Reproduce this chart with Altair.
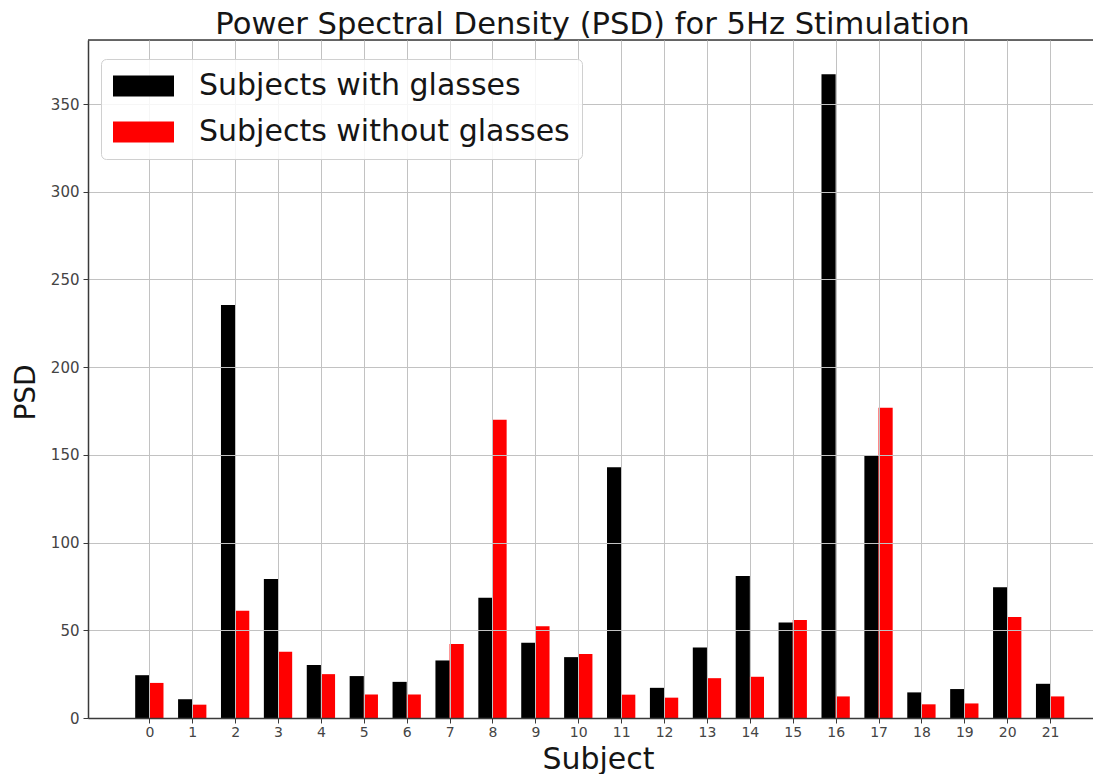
import altair as alt
import pandas as pd

# ---- data ----
subjects = list(range(22))
with_glasses = [24.4, 10.7, 235.5, 79.2, 30.2, 23.9, 20.6, 32.8, 68.5, 42.9, 34.7,
                143.0, 17.2, 40.2, 80.9, 54.5, 367.0, 149.4, 14.6, 16.5, 74.6, 19.5]
without_glasses = [20.0, 7.6, 61.1, 37.8, 25.0, 13.4, 13.4, 42.2, 170.0, 52.3, 36.5,
                   13.3, 11.6, 22.7, 23.5, 55.9, 12.3, 176.8, 7.8, 8.3, 57.6, 12.3]
series_names = ["Subjects with glasses", "Subjects without glasses"]
series_colors = ["#000000", "#ff0000"]
y_ticks = [0, 50, 100, 150, 200, 250, 300, 350]

rows = []
for s, a, b in zip(subjects, with_glasses, without_glasses):
    rows.append({"subject": s, "series": series_names[0], "psd": a, "slot": -1})
    rows.append({"subject": s, "series": series_names[1], "psd": b, "slot": 0})
df = pd.DataFrame(rows)

BAR_W = 0.33
FONT = "DejaVu Sans"
SPINE = "#3a3a3a"
GRID = "#c2c2c2"
PLOT_W = 1005
PLOT_H = 678

xscale = alt.Scale(domain=[-1.43, 22.0], nice=False, zero=False)
yscale = alt.Scale(domain=[0, 386.5], nice=False, zero=True)

color = alt.Color(
    "series:N",
    scale=alt.Scale(domain=series_names, range=series_colors),
    legend=alt.Legend(
        title=None,
        orient="none",
        legendX=13,
        legendY=19,
        symbolType="M-1,-0.344H1V0.344H-1Z",
        symbolSize=3721,
        symbolStrokeWidth=0,
        symbolOpacity=1,
        symbolOffset=0,
        labelFontSize=30,
        labelFont=FONT,
        labelColor="#151515",
        labelOffset=25,
        labelLimit=600,
        padding=12,
        clipHeight=30,
        rowPadding=16,
        fillColor="rgba(255,255,255,0.85)",
        strokeColor="#d0d0d0",
        cornerRadius=5,
        zindex=2,
    ),
)

y_axis = alt.Axis(
    values=y_ticks,
    title="PSD",
    grid=True,
    gridColor=GRID,
    gridWidth=1,
    labelFontSize=15,
    labelFont=FONT,
    labelColor="#444444",
    labelPadding=4,
    tickSize=5,
    tickColor=SPINE,
    domainColor=SPINE,
    domainWidth=1.5,
    titleFont=FONT,
    titleFontSize=28,
    titleFontWeight="normal",
    titleColor="#151515",
    titleAngle=270,
    titleAlign="center",
    titleBaseline="alphabetic",
    titleX=-54,
    titleY=352,
    zindex=1,
)

x_axis = alt.Axis(
    values=subjects,
    format="d",
    title="Subject",
    grid=True,
    gridColor=GRID,
    gridWidth=1,
    labelFontSize=14,
    labelFont=FONT,
    labelColor="#444444",
    labelPadding=2,
    labelFlush=False,
    tickSize=5,
    tickColor=SPINE,
    domainColor=SPINE,
    domainWidth=1.5,
    titleFont=FONT,
    titleFontSize=30,
    titleFontWeight="normal",
    titleColor="#151515",
    titleAlign="center",
    titleBaseline="alphabetic",
    titleX=510,
    titleY=50,
    zindex=1,
)

bars = alt.Chart(df).transform_calculate(
    x0=f"datum.subject + datum.slot * {BAR_W}",
    x1=f"datum.subject + (datum.slot + 1) * {BAR_W}",
).mark_bar().encode(
    x=alt.X("x0:Q", scale=xscale, axis=x_axis),
    x2="x1:Q",
    y=alt.Y("psd:Q", scale=yscale, axis=y_axis),
    y2=alt.datum(0),
    color=color,
)

# top spine of the axes frame (decoration only)
top_spine = alt.Chart(alt.Data(values=[{"k": 0}])).mark_rule(
    color=SPINE, strokeWidth=1.5
).encode(
    x=alt.value(0), x2=alt.value(PLOT_W), y=alt.value(0)
)

chart = alt.layer(bars, top_spine).properties(
    width=PLOT_W,
    height=PLOT_H,
    autosize=alt.AutoSizeParams(type="none"),
    padding={"left": 80, "top": 32, "right": 0, "bottom": 56},
    title=alt.TitleParams(
        "Power Spectral Density (PSD) for 5Hz Stimulation",
        fontSize=30.6,
        font=FONT,
        fontWeight="normal",
        color="#151515",
        anchor="middle",
        frame="group",
        baseline="alphabetic",
        offset=9,
        dx=2,
        dy=34,
    ),
).configure_view(
    stroke=None
).configure(
    background="white"
)

chart.save("out.html", embed_options={"renderer": "svg", "actions": False})
